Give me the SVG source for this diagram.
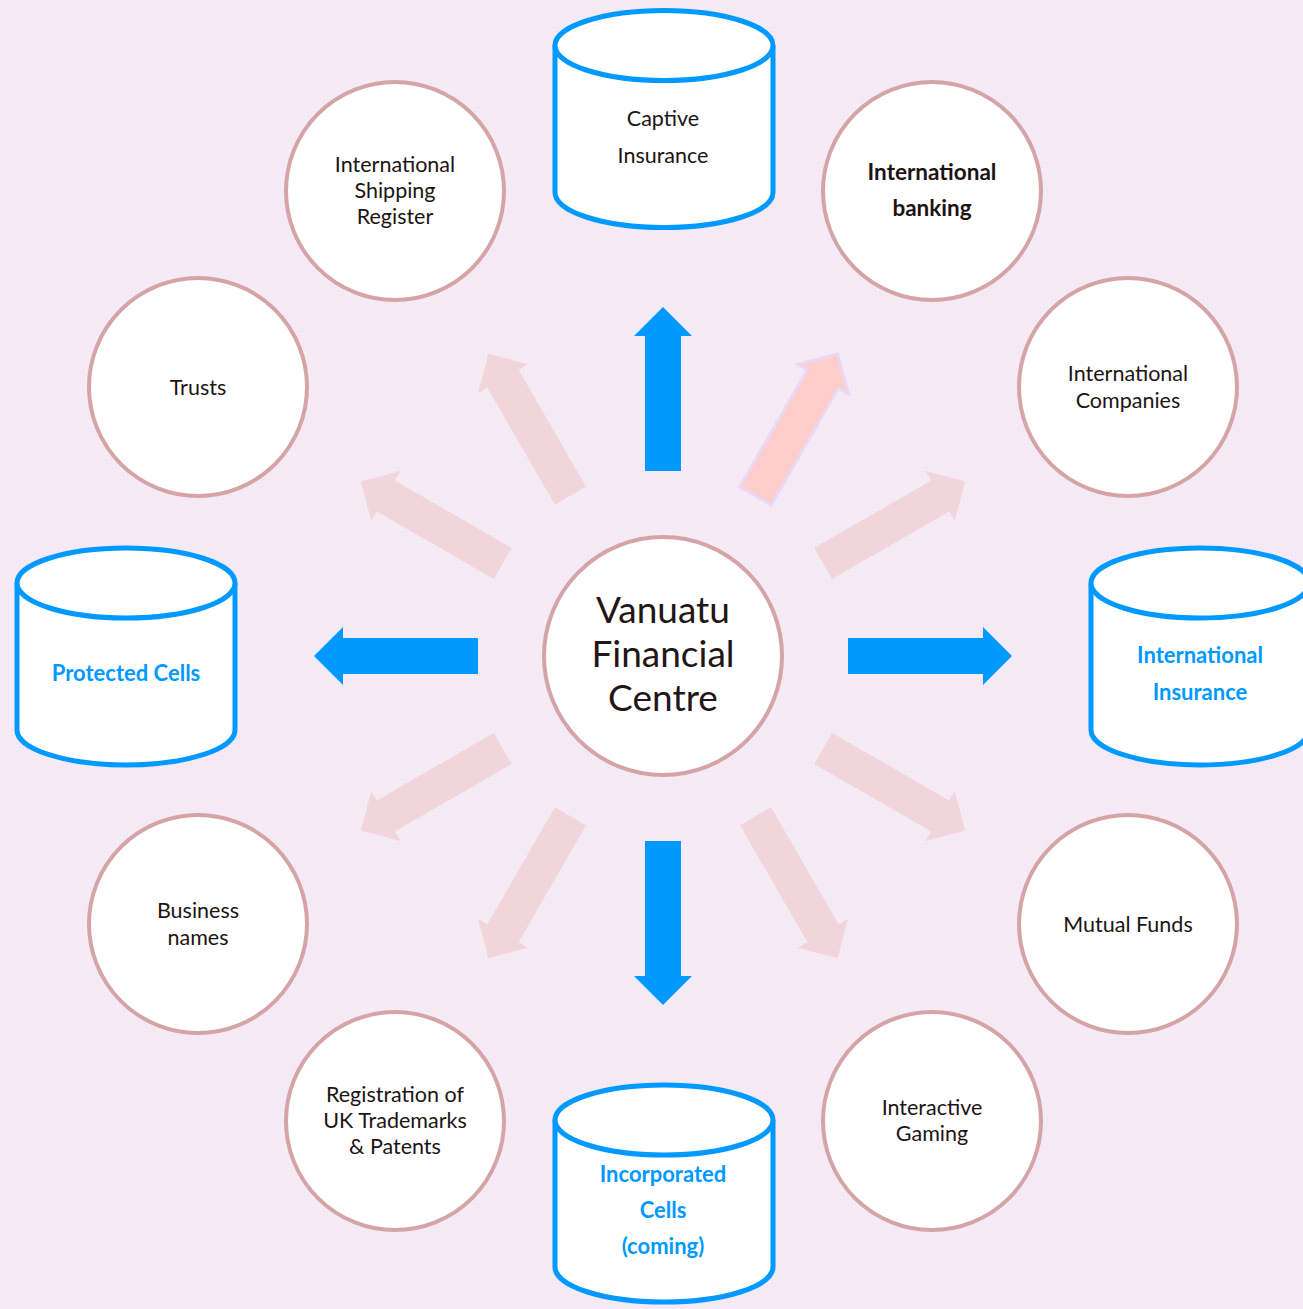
<svg xmlns="http://www.w3.org/2000/svg" xmlns:xlink="http://www.w3.org/1999/xlink" width="1303" height="1309" viewBox="0 0 1303 1309">
  <defs>
    <pattern id="dots" width="4" height="4" patternUnits="userSpaceOnUse">
      <rect x="1" y="1" width="1" height="1" fill="#ffffff" opacity="0.55"/>
    </pattern>
    <!-- one block arrow pointing up from the hub; rotated copies form the spokes -->
    <polygon id="spoke" points="645,471 645,336 634,336 663,307 692,336 681,336 681,471"/>
    <style>
      .ring { fill: #ffffff; stroke: #d4a4a6; stroke-width: 4; }
      .drum { fill: #ffffff; stroke: #0099ff; stroke-width: 5; }
      .lbl { font-family: Lato, "Liberation Sans", sans-serif; font-size: 21.5px; fill: #1c1414; text-anchor: middle; }
      .bold { font-weight: bold; font-size: 22.5px; }
      .blue { fill: #0099ff; font-weight: bold; font-size: 22px; }
      .hub { font-family: Lato, "Liberation Sans", sans-serif; font-size: 37px; fill: #231616; text-anchor: middle; }
      .pale { fill: #f0d6da; }
      .solid { fill: #0099ff; }
      .hot { fill: #ffcccc; stroke: #ead8f2; stroke-width: 3; stroke-linejoin: miter; }
    </style>
  </defs>

  <!-- background -->
  <rect width="1303" height="1309" fill="#f5e9f6"/>
  <rect width="1303" height="1309" fill="url(#dots)"/>

  <!-- connectors: block arrows radiating from the hub -->
  <g id="connectors">
    <use xlink:href="#spoke" class="pale" transform="rotate(60 663 656)"/>
    <use xlink:href="#spoke" class="pale" transform="rotate(120 663 656)"/>
    <use xlink:href="#spoke" class="pale" transform="rotate(150 663 656)"/>
    <use xlink:href="#spoke" class="pale" transform="rotate(210 663 656)"/>
    <use xlink:href="#spoke" class="pale" transform="rotate(240 663 656)"/>
    <use xlink:href="#spoke" class="pale" transform="rotate(300 663 656)"/>
    <use xlink:href="#spoke" class="pale" transform="rotate(330 663 656)"/>
    <use xlink:href="#spoke" class="hot" transform="rotate(30 663 656)"/>
    <use xlink:href="#spoke" class="solid"/>
    <use xlink:href="#spoke" class="solid" transform="rotate(90 663 656)"/>
    <use xlink:href="#spoke" class="solid" transform="rotate(180 663 656)"/>
    <use xlink:href="#spoke" class="solid" transform="rotate(270 663 656)"/>
  </g>

  <!-- hub -->
  <g id="vanuatu-financial-centre">
    <circle class="ring" cx="663" cy="656" r="119"/>
    <text class="hub" x="663" y="623">Vanuatu</text>
    <text class="hub" x="663" y="667">Financial</text>
    <text class="hub" x="663" y="711">Centre</text>
  </g>

  <!-- cylinders -->
  <g id="captive-insurance">
    <path class="drum" d="M555,45.5 L555,192.5 A109,35 0 0 0 773,192.5 L773,45.5"/>
    <ellipse class="drum" cx="664" cy="45.5" rx="109" ry="35"/>
    <text class="lbl" x="663" y="126">Captive</text>
    <text class="lbl" x="663" y="163">Insurance</text>
  </g>

  <g id="protected-cells">
    <path class="drum" d="M17,583 L17,730 A109,35 0 0 0 235,730 L235,583"/>
    <ellipse class="drum" cx="126" cy="583" rx="109" ry="35"/>
    <text class="lbl blue" x="126" y="681">Protected Cells</text>
  </g>

  <g id="international-insurance">
    <path class="drum" d="M1091,583 L1091,730 A109,35 0 0 0 1309,730 L1309,583"/>
    <ellipse class="drum" cx="1200" cy="583" rx="109" ry="35"/>
    <text class="lbl blue" x="1200" y="663">International</text>
    <text class="lbl blue" x="1200" y="700">Insurance</text>
  </g>

  <g id="incorporated-cells">
    <path class="drum" d="M555,1120 L555,1267 A109,35 0 0 0 773,1267 L773,1120"/>
    <ellipse class="drum" cx="664" cy="1120" rx="109" ry="35"/>
    <text class="lbl blue" x="663" y="1182">Incorporated</text>
    <text class="lbl blue" x="663" y="1218">Cells</text>
    <text class="lbl blue" x="663" y="1254">(coming)</text>
  </g>

  <!-- circles -->
  <g id="international-shipping-register">
    <circle class="ring" cx="395" cy="191" r="109"/>
    <text class="lbl" x="395" y="172">International</text>
    <text class="lbl" x="395" y="198">Shipping</text>
    <text class="lbl" x="395" y="224">Register</text>
  </g>

  <g id="international-banking">
    <circle class="ring" cx="932" cy="191" r="109"/>
    <text class="lbl bold" x="932" y="180">International</text>
    <text class="lbl bold" x="932" y="216">banking</text>
  </g>

  <g id="trusts">
    <circle class="ring" cx="198" cy="387" r="109"/>
    <text class="lbl" x="198" y="395">Trusts</text>
  </g>

  <g id="international-companies">
    <circle class="ring" cx="1128" cy="387" r="109"/>
    <text class="lbl" x="1128" y="381">International</text>
    <text class="lbl" x="1128" y="408">Companies</text>
  </g>

  <g id="business-names">
    <circle class="ring" cx="198" cy="924" r="109"/>
    <text class="lbl" x="198" y="918">Business</text>
    <text class="lbl" x="198" y="945">names</text>
  </g>

  <g id="mutual-funds">
    <circle class="ring" cx="1128" cy="924" r="109"/>
    <text class="lbl" x="1128" y="932">Mutual Funds</text>
  </g>

  <g id="registration-uk-trademarks">
    <circle class="ring" cx="395" cy="1121" r="109"/>
    <text class="lbl" x="395" y="1102">Registration of</text>
    <text class="lbl" x="395" y="1128">UK Trademarks</text>
    <text class="lbl" x="395" y="1154">&amp; Patents</text>
  </g>

  <g id="interactive-gaming">
    <circle class="ring" cx="932" cy="1121" r="109"/>
    <text class="lbl" x="932" y="1115">Interactive</text>
    <text class="lbl" x="932" y="1141">Gaming</text>
  </g>
</svg>
